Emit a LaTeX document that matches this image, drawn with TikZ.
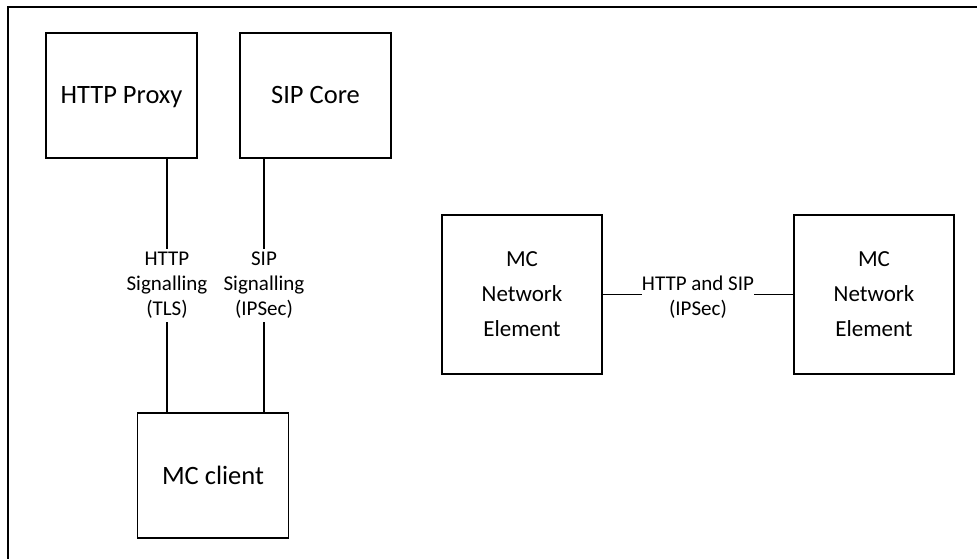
\documentclass[tikz,border=0pt]{standalone}
\usepackage{fontspec}
\setmainfont{Carlito}
\usetikzlibrary{positioning,calc}

\begin{document}
\begin{tikzpicture}[
			boxbase/.style={rectangle, draw=black, line width=1.6pt, outer sep=0pt, inner sep=0pt},
			block/.style={boxbase, minimum width=151pt, minimum height=125pt, text height=22.5pt, text depth=5.5pt, font=\fontsize{26.5}{32}\selectfont},
			nebox/.style={boxbase, minimum width=160pt, minimum height=159pt, align=center, font=\fontsize{23}{35}\selectfont},
			link/.style={line width=1.6pt},
			linklabel/.style={rectangle, fill=white, inner xsep=1pt, inner ysep=3pt, align=center, font=\fontsize{21}{25}\selectfont}
		]
		\useasboundingbox (0,0) rectangle (977pt,558pt);
		\draw[link] (8pt,-10pt) -- (8pt,551pt) -- (990pt,551pt);
		\node[block] (proxy) at (121.5pt,462.5pt) {HTTP Proxy};
		\node[block] (sipcore) [right=43pt of proxy] {SIP Core};
		\node[block] (client) at (213pt,82.5pt) {MC client};
		\node[nebox] (ne1) at (522pt,263.5pt) {MC\\Network\\Element};
		\node[nebox] (ne2) [right=192pt of ne1] {MC\\Network\\Element};
		\node[linklabel, inner sep=0pt, fill=none] (netlabel) at ($(ne1.east)!0.5!(ne2.west)+(0,-3pt)$) {HTTP and SIP\\(IPSec)};
		\begin{scope}[link]
		\draw ([xshift=-30pt]proxy.south east) -- ([xshift=-30pt]proxy.south east |- client.north) node[linklabel, midway] {HTTP\\Signalling\\(TLS)};
		\draw ([xshift=24pt]sipcore.south west) -- ([xshift=24pt]sipcore.south west |- client.north) node[linklabel, midway] {SIP\\Signalling\\(IPSec)};
		\draw (ne1.east) -- (ne1.east -| netlabel.west);
		\draw (netlabel.east |- ne2.west) -- (ne2.west);
		\end{scope}
		\end{tikzpicture}
\end{document}
